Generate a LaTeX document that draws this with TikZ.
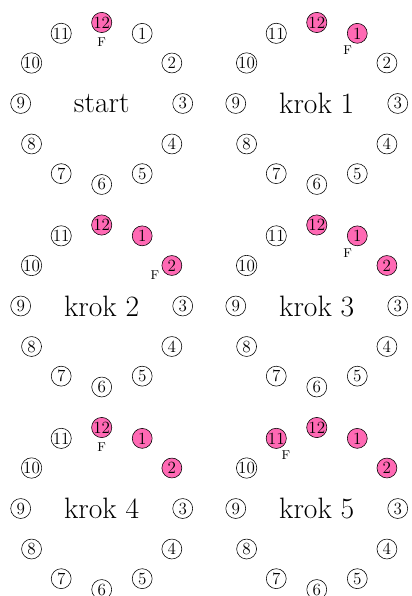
\documentclass[tikz,border=0pt]{standalone}
\usepackage{xcolor}
\usepackage{tikz}

\definecolor{hourpink}{RGB}{255,105,180}

\tikzset{
  hour/.style={draw, circle, inner sep=0pt, minimum size=14pt, font=\large},
  hourdone/.style={hour, fill=hourpink},
  steptext/.style={font=\huge},
  flag/.style={font=\small, inner sep=0pt}
}

\begin{document}
\begin{tikzpicture}
\useasboundingbox (-2.511,2.555) rectangle (7.637,-12.160);
% col/row/label/F hour/first filled/last filled (11=-1, 12=0)
\foreach \col/\row/\txt/\f/\lo/\hi/\p in {0/0/start/0/0/0/a, 1/0/krok 1/1/0/1/b, 0/1/krok 2/2/0/2/c, 1/1/krok 3/1/0/2/d, 0/2/krok 4/0/0/2/e, 1/2/krok 5/-1/-1/2/f}{
  \begin{scope}[shift={(5.31*\col,-5*\row)}]
    \node[steptext] (\p-txt) at (0,0) {\txt};
    \foreach \j in {-1,...,10}{
      \pgfmathtruncatemacro\hr{\j<1 ? \j+12 : \j}
      \pgfmathtruncatemacro\isdone{and(\j>=\lo, \j<=\hi)}
      \ifnum\isdone=1
        \node[hourdone] (\p-\hr) at (90-30*\j:2) {\hr};
      \else
        \node[hour] (\p-\hr) at (90-30*\j:2) {\hr};
      \fi
    }
    \node[flag] (\p-F) at (90-30*\f:1.52) {F};
  \end{scope}
}
\end{tikzpicture}
\end{document}
